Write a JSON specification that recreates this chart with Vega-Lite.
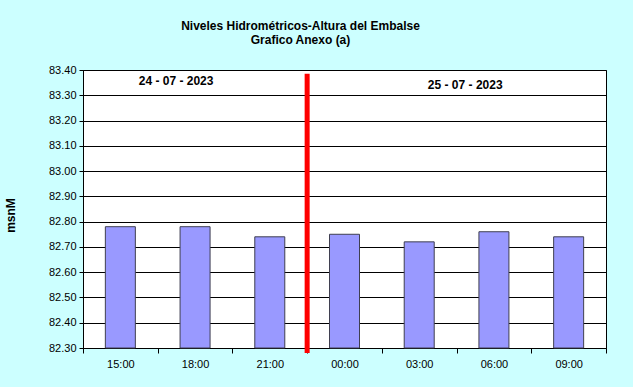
{
  "$schema": "https://vega.github.io/schema/vega-lite/v6.json",
  "autosize": "none",
  "width": 523,
  "height": 278,
  "padding": {"left": 83, "top": 70, "right": 27, "bottom": 39},
  "background": "#CCFFFF",
  "config": {
    "font": "Liberation Sans",
    "view": {"stroke": "#000000", "strokeWidth": 1, "fill": "#FFFFFF"}
  },
  "title": {
    "text": ["Niveles Hidrométricos-Altura del Embalse", "Grafico Anexo (a)"],
    "anchor": "middle",
    "dx": -44,
    "dy": 5,
    "offset": 22,
    "fontSize": 12,
    "fontWeight": "bold",
    "color": "#000000",
    "lineHeight": 14
  },
  "datasets": {
    "bars": [
      {"hora": "15:00", "nivel": 82.78},
      {"hora": "18:00", "nivel": 82.78},
      {"hora": "21:00", "nivel": 82.74},
      {"hora": "00:00", "nivel": 82.75},
      {"hora": "03:00", "nivel": 82.72},
      {"hora": "06:00", "nivel": 82.76},
      {"hora": "09:00", "nivel": 82.74}
    ],
    "sep": [{"hora": "21:00", "top": 83.385, "bottom": 82.28}],
    "fecha1": [{"hora": "18:00", "y": 83.355, "label": "24 - 07 - 2023"}],
    "fecha2": [{"hora": "03:00", "y": 83.34, "label": "25 - 07 - 2023"}]
  },
  "layer": [
    {
      "data": {"name": "bars"},
      "mark": {"type": "bar", "size": 30, "fill": "#9999FF", "stroke": "#3F3F50", "strokeWidth": 1},
      "encoding": {
        "x": {
          "field": "hora",
          "type": "ordinal",
          "sort": ["15:00", "18:00", "21:00", "00:00", "03:00", "06:00", "09:00"],
          "scale": {"paddingInner": 0, "paddingOuter": 0},
          "axis": {
            "title": null,
            "labelAngle": 0,
            "labelFontSize": 11,
            "labelColor": "#000000",
            "labelPadding": 5,
            "ticks": true,
            "tickBand": "extent",
            "tickColor": "#000000",
            "tickOpacity": 1,
            "tickWidth": 1,
            "tickSize": 5,
            "domainColor": "#000000",
            "grid": false
          }
        },
        "y": {
          "field": "nivel",
          "type": "quantitative",
          "scale": {"domain": [82.3, 83.4], "nice": false, "zero": false},
          "axis": {
            "values": [82.3, 82.4, 82.5, 82.6, 82.7, 82.8, 82.9, 83.0, 83.1, 83.2, 83.3, 83.4],
            "tickCount": 12,
            "format": ".2f",
            "labelOverlap": false,
            "labelFontSize": 11,
            "labelColor": "#000000",
            "labelPadding": 3,
            "tickSize": 4,
            "tickColor": "#000000",
            "domainColor": "#000000",
            "gridColor": "#000000",
            "gridOpacity": 1,
            "title": "msnM",
            "titleFontSize": 12,
            "titleFontWeight": "bold",
            "titleColor": "#000000",
            "titleAngle": -90,
            "titleX": -73,
            "titleY": 145,
            "titleAlign": "center",
            "titleBaseline": "middle"
          }
        },
        "y2": {"datum": 82.3}
      }
    },
    {
      "data": {"name": "sep"},
      "mark": {"type": "rule", "color": "#FF0000", "strokeWidth": 5},
      "encoding": {
        "x": {"field": "hora", "type": "ordinal", "sort": ["15:00", "18:00", "21:00", "00:00", "03:00", "06:00", "09:00"], "bandPosition": 1},
        "y": {"field": "top", "type": "quantitative"},
        "y2": {"field": "bottom"}
      }
    },
    {
      "data": {"name": "fecha1"},
      "mark": {"type": "text", "fontSize": 12, "fontWeight": "bold", "color": "#000000", "baseline": "middle", "align": "center", "dx": -19},
      "encoding": {
        "x": {"field": "hora", "type": "ordinal", "sort": ["15:00", "18:00", "21:00", "00:00", "03:00", "06:00", "09:00"]},
        "y": {"field": "y", "type": "quantitative"},
        "text": {"field": "label"}
      }
    },
    {
      "data": {"name": "fecha2"},
      "mark": {"type": "text", "fontSize": 12, "fontWeight": "bold", "color": "#000000", "baseline": "middle", "align": "center", "dx": 46},
      "encoding": {
        "x": {"field": "hora", "type": "ordinal", "sort": ["15:00", "18:00", "21:00", "00:00", "03:00", "06:00", "09:00"]},
        "y": {"field": "y", "type": "quantitative"},
        "text": {"field": "label"}
      }
    }
  ]
}
